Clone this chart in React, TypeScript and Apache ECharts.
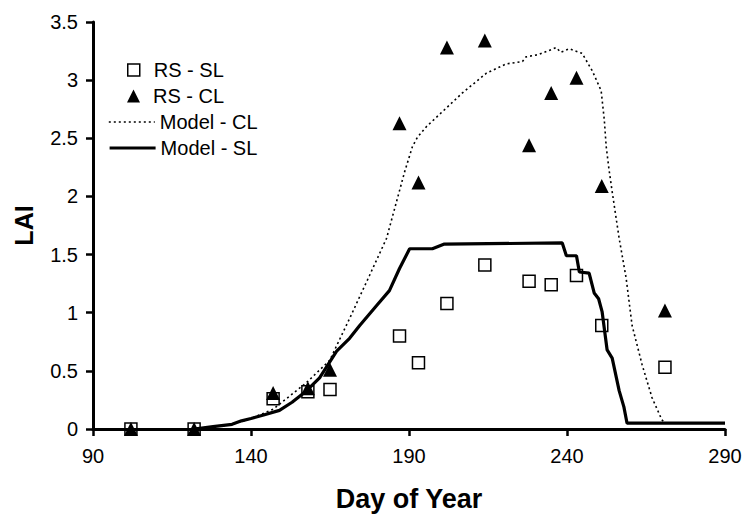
import React, { useEffect, useRef } from "react";
import * as echarts from "echarts";

const FONT = "'Liberation Sans', Arial, Helvetica, sans-serif";

const rsDays = [102, 122, 147, 158, 165, 187, 193, 202, 214, 228, 235, 243, 251, 271];
const rsSL = [0.0, 0.0, 0.26, 0.32, 0.34, 0.8, 0.57, 1.08, 1.41, 1.27, 1.24, 1.32, 0.89, 0.53];
const rsCL = [0.0, 0.0, 0.31, 0.35, 0.51, 2.63, 2.12, 3.28, 3.34, 2.44, 2.89, 3.02, 2.09, 1.02];

const modelSLDays = [122, 128, 134, 137, 140, 144, 149, 153, 157.6, 161.7, 167.1, 171.2, 174.4, 179.7, 183.8, 187, 190.2, 197.4, 201.2, 238.5, 239.8, 243, 243.9, 247, 248.6, 250, 251.1, 252.7, 254.3, 256.5, 258, 259, 290];
const modelSL = [0, 0.02, 0.04, 0.07, 0.09, 0.12, 0.16, 0.23, 0.33, 0.44, 0.67, 0.78, 0.89, 1.06, 1.19, 1.38, 1.55, 1.55, 1.59, 1.6, 1.49, 1.49, 1.35, 1.34, 1.17, 1.12, 1.01, 0.68, 0.61, 0.33, 0.19, 0.05, 0.05];

const modelCLDays = [122, 134, 140, 147, 153, 157.6, 164.9, 171.2, 177.5, 182.9, 184.8, 188.6, 191.1, 192.7, 195.5, 201.8, 206.9, 214.5, 220.8, 225.9, 227, 231, 236.6, 238, 240.7, 244.8, 248, 250.8, 251.8, 252.4, 253.3, 254.3, 256.5, 258.7, 260.6, 263.8, 266.9, 270, 271, 290];
const modelCL = [0, 0.04, 0.09, 0.17, 0.3, 0.4, 0.59, 0.95, 1.32, 1.64, 1.83, 2.21, 2.43, 2.51, 2.6, 2.76, 2.89, 3.06, 3.14, 3.16, 3.2, 3.22, 3.28, 3.24, 3.27, 3.23, 3.08, 2.91, 2.66, 2.43, 2.23, 2.04, 1.64, 1.3, 0.89, 0.55, 0.27, 0.08, 0.05, 0.05];

const seriesNames = ["RS - SL", "RS - CL", "Model - CL", "Model - SL"];

const zip = (xs: number[], ys: number[]) => xs.map((x, i) => [x, ys[i]]);

export default function App() {
  const ref = useRef<HTMLDivElement>(null);
  useEffect(() => {
    if (!ref.current) return;
    const chart = echarts.init(ref.current, null, { renderer: "svg" });
    const legendText = { fontFamily: FONT, fontSize: 20, color: "#000" };
    chart.setOption({
      animation: false,
      backgroundColor: "#fff",
      textStyle: { fontFamily: FONT },
      grid: { left: 93, right: 21, top: 22, bottom: 85 },
      legend: [
        {
          data: [seriesNames[0]], left: 127, top: 60, padding: 0, itemWidth: 12, itemHeight: 12,
          icon: "rect",
          itemStyle: { color: "transparent", borderColor: "#000", borderWidth: 1.5, opacity: 1 },
          textStyle: { ...legendText, padding: [0, 0, 0, 9] },
        },
        {
          data: [seriesNames[1]], left: 127, top: 86, padding: 0, itemWidth: 13, itemHeight: 13,
          icon: "triangle",
          itemStyle: { color: "#000", opacity: 1 },
          textStyle: { ...legendText, padding: [0, 0, 0, 8] },
        },
        {
          data: [seriesNames[2]], left: 108, top: 112, padding: 0, itemWidth: 46, itemHeight: 12,
          itemStyle: { opacity: 0 },
          lineStyle: { color: "#000", width: 1.6, type: [2, 3] },
          textStyle: legendText,
        },
        {
          data: [seriesNames[3]], left: 108, top: 138, padding: 0, itemWidth: 46, itemHeight: 12,
          itemStyle: { opacity: 0 },
          lineStyle: { color: "#000", width: 3.2 },
          textStyle: legendText,
        },
      ],
      xAxis: {
        type: "value",
        min: 90,
        max: 290,
        interval: 50,
        name: "Day of Year",
        nameLocation: "middle",
        nameGap: 56,
        nameTextStyle: { fontFamily: FONT, fontSize: 27, fontWeight: "bold", color: "#000" },
        axisLine: { show: true, onZero: false, lineStyle: { color: "#000", width: 3 } },
        axisTick: { show: true, inside: false, length: 7, lineStyle: { color: "#000", width: 2.5 } },
        axisLabel: { fontFamily: FONT, fontSize: 20, color: "#000", margin: 17 },
        splitLine: { show: false },
      },
      yAxis: {
        type: "value",
        min: 0,
        max: 3.5,
        interval: 0.5,
        name: "LAI",
        nameLocation: "middle",
        nameGap: 57,
        nameTextStyle: { fontFamily: FONT, fontSize: 25, fontWeight: "bold", color: "#000" },
        axisLine: { show: true, lineStyle: { color: "#000", width: 3 } },
        axisTick: { show: true, inside: false, length: 7, lineStyle: { color: "#000", width: 2.5 } },
        axisLabel: { fontFamily: FONT, fontSize: 20, color: "#000", margin: 15 },
        splitLine: { show: false },
      },
      series: [
        {
          name: seriesNames[2],
          type: "line",
          data: zip(modelCLDays, modelCL),
          symbol: "none",
          showSymbol: false,
          lineStyle: { color: "#000", width: 1.6, type: [2, 3] },
          itemStyle: { color: "#000" },
          z: 2,
        },
        {
          name: seriesNames[3],
          type: "line",
          data: zip(modelSLDays, modelSL),
          symbol: "none",
          showSymbol: false,
          lineStyle: { color: "#000", width: 3.2 },
          itemStyle: { color: "#000" },
          z: 2,
        },
        {
          name: seriesNames[0],
          type: "scatter",
          data: zip(rsDays, rsSL),
          symbol: "rect",
          symbolSize: 12,
          itemStyle: { color: "transparent", borderColor: "#000", borderWidth: 1.5, opacity: 1 },
          z: 3,
        },
        {
          name: seriesNames[1],
          type: "scatter",
          data: zip(rsDays, rsCL),
          symbol: "triangle",
          symbolSize: 14,
          itemStyle: { color: "#000", opacity: 1 },
          z: 3,
        },
      ],
    });
    return () => chart.dispose();
  }, []);
  return (
    <div
      ref={ref}
      style={{ position: "fixed", left: 0, top: 0, width: 746, height: 517, background: "#fff" }}
    />
  );
}
